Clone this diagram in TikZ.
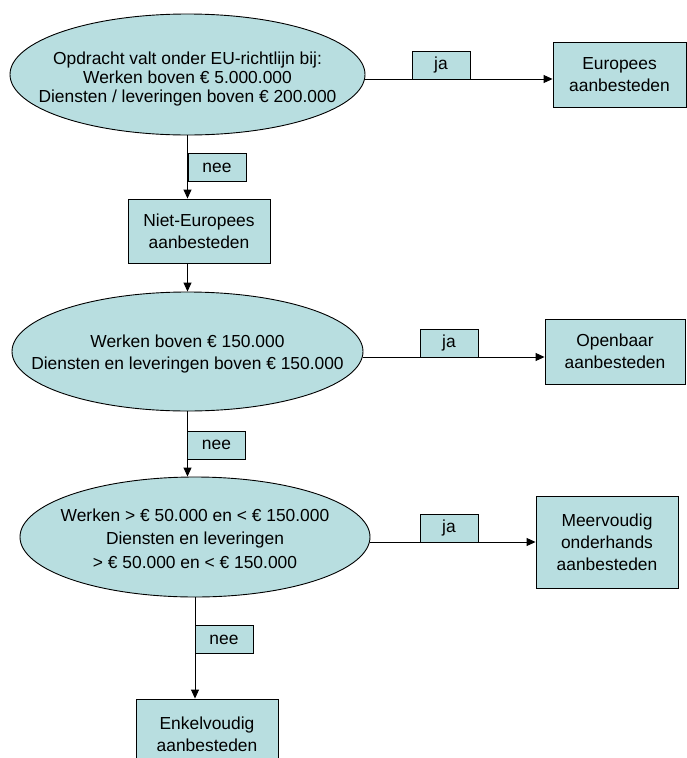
\documentclass[tikz,border=0pt]{standalone}
\usepackage{fontspec}
\setmainfont{Liberation Sans}
\usetikzlibrary{shapes.geometric,arrows.meta}
\definecolor{boxfill}{HTML}{B8DEE0}
\begin{document}
\begin{tikzpicture}[x=1pt,y=-1pt,
  every node/.style={font=\fontsize{17.4}{22}\selectfont, text=black},
  shapebox/.style={draw=black, line width=0.9pt, fill=boxfill, inner sep=0pt},
  ell/.style={shapebox, ellipse},
  rbox/.style={shapebox, rectangle, align=center},
  lbl/.style={shapebox, rectangle, minimum width=58pt, minimum height=28pt},
  etext/.style={align=center, inner sep=0pt},
  arr/.style={draw=black, line width=0.9pt, -{Triangle[length=9pt,width=8pt]}}]
\clip (0,0) rectangle (687,758);
\fill[white] (0,0) rectangle (687,758);
% decision ellipses
\node[ell, minimum width=355pt, minimum height=121pt] (e1) at (187.5,74.5) {};
\node[etext, font=\fontsize{17.4}{18.8}\selectfont] (t1) at (187.5,79) {Opdracht valt onder EU-richtlijn bij:\\Werken boven € 5.000.000\\Diensten / leveringen boven € 200.000};
\node[ell, minimum width=351pt, minimum height=119pt] (e2) at (187.5,351.5) {};
\node[etext] (t2) at (187.5,354) {Werken boven € 150.000\\Diensten en leveringen boven € 150.000};
\node[ell, minimum width=350pt, minimum height=120pt] (e3) at (195,537) {};
\node[etext, font=\fontsize{17.4}{23.3}\selectfont] (t3) at (195,538.5) {Werken > € 50.000 en < € 150.000\\Diensten en leveringen\\> € 50.000 en < € 150.000};
% outcome boxes
\node[rbox, minimum width=133pt, minimum height=65pt] (eu) at (619.5,74.5) {Europees\\aanbesteden};
\node[rbox, minimum width=142pt, minimum height=64pt] (ne) at (199,231) {Niet-Europees\\aanbesteden};
\node[rbox, minimum width=140pt, minimum height=65pt] (op) at (615,351.5) {Openbaar\\aanbesteden};
\node[rbox, minimum width=142pt, minimum height=92pt] (mv) at (607,542) {Meervoudig\\onderhands\\aanbesteden};
\node[rbox, minimum width=142pt, minimum height=70pt] (ek) at (207,734) {Enkelvoudig\\aanbesteden};
% connectors
\draw[arr] ([yshift=-4.5pt]e1.east) -- ([yshift=-4.5pt]eu.west);
\draw[arr] (e1.south) -- (e1.south |- ne.north);
\draw[arr] (ne.south -| e2.north) -- (e2.north);
\draw[arr] ([yshift=-5.5pt]e2.east) -- ([yshift=-5.5pt]op.west);
\draw[arr] (e2.south) -- (e2.south |- e3.north);
\draw[arr] (e3.east |- mv.west) -- (mv.west);
\draw[arr] (e3.south) -- (e3.south |- ek.north);
% labels
\node[lbl] (ja1) at (441,65) {ja};
\node[lbl] (nee1) at (217,167.5) {nee};
\node[lbl] (ja2) at (449,343) {ja};
\node[lbl] (nee2) at (216.5,445) {nee};
\node[lbl] (ja3) at (449,528) {ja};
\node[lbl] (nee3) at (224,639.5) {nee};
\end{tikzpicture}
\end{document}
